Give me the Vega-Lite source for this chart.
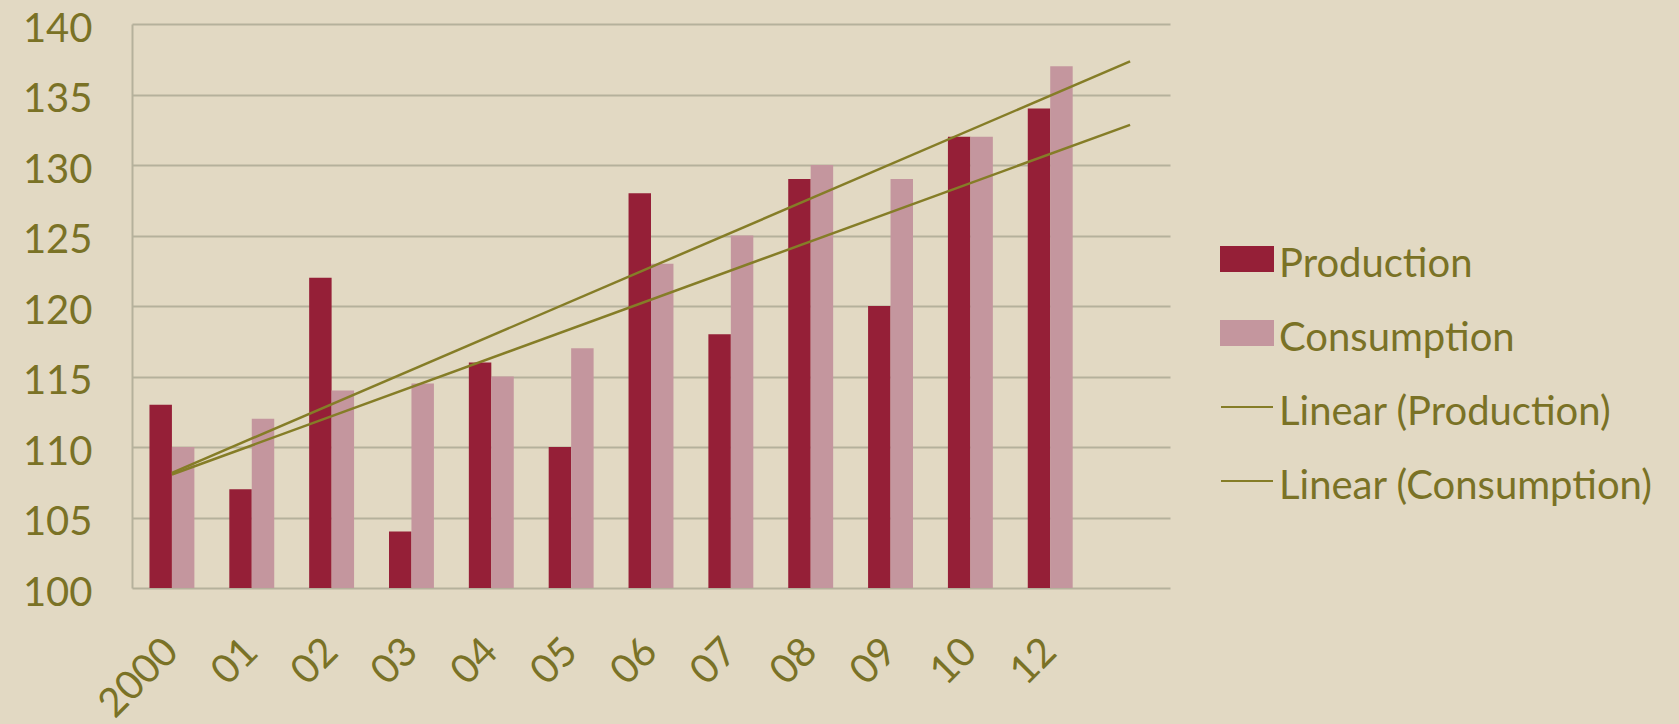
{
  "$schema": "https://vega.github.io/schema/vega-lite/v6.json",
  "width": 1038,
  "height": 564,
  "autosize": {"type": "none"},
  "padding": {"left": 132, "top": 24, "right": 509, "bottom": 136},
  "background": "#e2d9c3",
  "config": {
    "view": {"stroke": null},
    "axis": {"labelFont": "Lato", "labelFontSize": 40, "labelColor": "#7a7226", "title": null}
  },
  "datasets": {
    "bars": [
      {"year": "2000", "series": "Production", "value": 113},
      {"year": "2000", "series": "Consumption", "value": 110},
      {"year": "01", "series": "Production", "value": 107},
      {"year": "01", "series": "Consumption", "value": 112},
      {"year": "02", "series": "Production", "value": 122},
      {"year": "02", "series": "Consumption", "value": 114},
      {"year": "03", "series": "Production", "value": 104},
      {"year": "03", "series": "Consumption", "value": 114.5},
      {"year": "04", "series": "Production", "value": 116},
      {"year": "04", "series": "Consumption", "value": 115},
      {"year": "05", "series": "Production", "value": 110},
      {"year": "05", "series": "Consumption", "value": 117},
      {"year": "06", "series": "Production", "value": 128},
      {"year": "06", "series": "Consumption", "value": 123},
      {"year": "07", "series": "Production", "value": 118},
      {"year": "07", "series": "Consumption", "value": 125},
      {"year": "08", "series": "Production", "value": 129},
      {"year": "08", "series": "Consumption", "value": 130},
      {"year": "09", "series": "Production", "value": 120},
      {"year": "09", "series": "Consumption", "value": 129},
      {"year": "10", "series": "Production", "value": 132},
      {"year": "10", "series": "Consumption", "value": 132},
      {"year": "12", "series": "Production", "value": 134},
      {"year": "12", "series": "Consumption", "value": 137}
    ],
    "trend": [
      {"year": "2000", "series": "Linear (Production)", "value": 108.05},
      {"year": " ", "series": "Linear (Production)", "value": 132.85},
      {"year": "2000", "series": "Linear (Consumption)", "value": 108.17},
      {"year": " ", "series": "Linear (Consumption)", "value": 137.35}
    ]
  },
  "encoding": {
    "x": {
      "field": "year", "type": "nominal", "sort": null,
      "scale": {"domain": ["2000", "01", "02", "03", "04", "05", "06", "07", "08", "09", "10", "12", " "], "paddingInner": 0.4375, "paddingOuter": 0.21875},
      "axis": {"labelAngle": -45, "labelAlign": "right", "labelBaseline": "middle", "labelPadding": 57, "ticks": false, "domain": false, "grid": false, "labelOverlap": false, "labelBound": false}
    },
    "y": {
      "field": "value", "type": "quantitative",
      "scale": {"domain": [100, 140], "zero": false, "nice": false},
      "axis": {"values": [100, 105, 110, 115, 120, 125, 130, 135, 140], "grid": true, "gridColor": "#b5b19c", "gridWidth": 2, "domain": true, "domainColor": "#b5b19c", "domainWidth": 2, "ticks": false, "labelPadding": 40, "labelOffset": 5, "labelBound": false, "labelFlush": false}
    },
    "color": {
      "field": "series", "type": "nominal",
      "scale": {"domain": ["Production", "Consumption", "Linear (Production)", "Linear (Consumption)"], "range": ["#951f37", "#c4969e", "#857d27", "#857d27"]},
      "legend": {
        "orient": "none", "legendX": 1088, "legendY": 208, "title": null,
        "padding": 0, "symbolSize": 2704, "rowPadding": 21, "labelOffset": 5, "labelLimit": 0,
        "labelFont": "Lato", "labelFontSize": 40, "labelColor": "#7a7226",
        "symbolStrokeWidth": 2,
        "encode": {
          "symbols": {"update": {
            "shape": {"signal": "indexof(datum.value,'Linear')===0 ? 'stroke' : 'M-1,-0.46H1V0.46H-1Z'"},
            "fill": {"signal": "indexof(datum.value,'Linear')===0 ? 'transparent' : scale('color', datum.value)"},
            "stroke": {"signal": "indexof(datum.value,'Linear')===0 ? scale('color', datum.value) : 'transparent'"},
            "opacity": {"value": 1}
          }},
          "labels": {"update": {"dy": {"value": 6}}}
        }
      }
    }
  },
  "layer": [
    {
      "data": {"name": "bars"},
      "mark": {"type": "bar"},
      "encoding": {
        "xOffset": {"field": "series", "type": "nominal", "sort": null, "scale": {"domain": ["Production", "Consumption"]}},
        "y2": {"datum": 100}
      }
    },
    {
      "data": {"name": "trend"},
      "mark": {"type": "line", "strokeWidth": 2.5},
      "encoding": {"detail": {"field": "series"}}
    }
  ]
}
